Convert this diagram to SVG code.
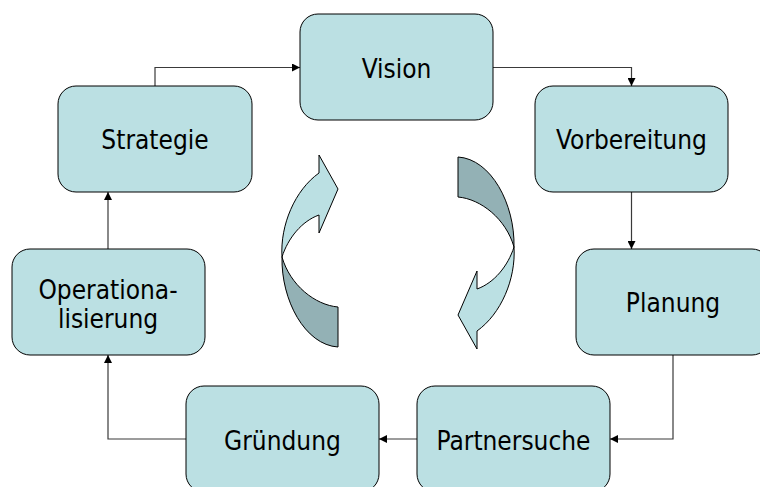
<svg xmlns="http://www.w3.org/2000/svg" xmlns:xlink="http://www.w3.org/1999/xlink" width="760" height="487" viewBox="0 0 760 487">
<style>
.box{fill:#BBE0E3;stroke:#000;stroke-width:1}
.lbl{font-family:'DejaVu Sans Condensed','DejaVu Sans',sans-serif;font-stretch:condensed;font-size:26px;fill:#000;text-anchor:middle}
.con{fill:none;stroke:#3a3a3a;stroke-width:1.2;marker-end:url(#ah)}
.lt{fill:#BBE0E3;stroke:#000;stroke-width:1}
.dk{fill:#93B1B5;stroke:#000;stroke-width:1}
</style>
<defs>
<marker id="ah" viewBox="0 0 10 10" refX="10" refY="5" markerWidth="8" markerHeight="8" markerUnits="userSpaceOnUse" orient="auto">
<path d="M0,0 L10,5 L0,10 Z" fill="#000"/>
</marker>
<g id="curl">
<path class="dk" d="M282,257 C281,300 305,345 338,347 L338,307 C315,305 290,285 282,257 Z"/>
<path class="lt" d="M282,257 C280,225 295,190 319,173 L319,155 L338,189 L319,233 L319,215 C302,221 288,238 282,257 Z"/>
</g>
</defs>
<rect width="760" height="487" fill="#fff"/>
<g id="connectors">
<path class="con" d="M155,86 V67.5 H300"/>
<path class="con" d="M493,67.5 H631.5 V86"/>
<path class="con" d="M631.5,192 V249"/>
<path class="con" d="M673,355 V439 H610"/>
<path class="con" d="M417,439 H379"/>
<path class="con" d="M186,439 H108 V355"/>
<path class="con" d="M108,249 V192"/>
</g>
<g id="cycle-arrows">
<use xlink:href="#curl"/>
<use xlink:href="#curl" transform="matrix(-1 0 0 -1 796 504)"/>
</g>
<g id="vision"><rect class="box" x="300" y="14" width="193" height="106" rx="18"/><text class="lbl" x="396.5" y="78">Vision</text></g>
<g id="vorbereitung"><rect class="box" x="535" y="86" width="193" height="106" rx="18"/><text class="lbl" x="631.5" y="149">Vorbereitung</text></g>
<g id="planung"><rect class="box" x="576" y="249" width="194" height="106" rx="18"/><text class="lbl" x="673" y="312">Planung</text></g>
<g id="partnersuche"><rect class="box" x="417" y="386" width="193" height="106" rx="18"/><text class="lbl" x="513.5" y="450">Partnersuche</text></g>
<g id="gruendung"><rect class="box" x="186" y="386" width="193" height="106" rx="18"/><text class="lbl" x="282.5" y="450">Gründung</text></g>
<g id="operationalisierung"><rect class="box" x="12" y="249" width="193" height="106" rx="18"/><text class="lbl" x="108" y="299">Operationa-</text><text class="lbl" x="108" y="328">lisierung</text></g>
<g id="strategie"><rect class="box" x="58" y="86" width="194" height="106" rx="18"/><text class="lbl" x="155" y="149">Strategie</text></g>
</svg>
